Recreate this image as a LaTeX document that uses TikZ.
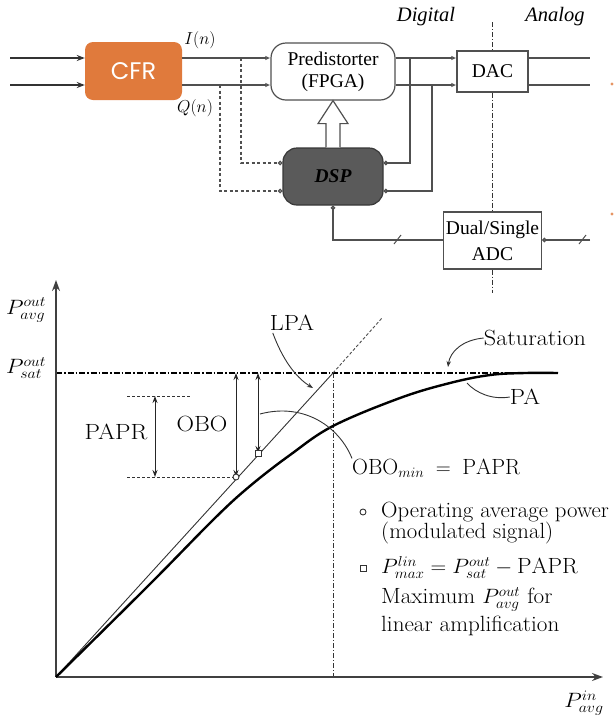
\documentclass[tikz,border=0pt]{standalone}
\usepackage{fontspec}
\newfontfamily\tms{Liberation Serif}
\newfontfamily\cfrfont{Poppins}
\usetikzlibrary{arrows.meta,calc}
\definecolor{cfrorange}{HTML}{E07A3C}
\definecolor{ln}{HTML}{505050}
\definecolor{dspgray}{HTML}{5A5A5A}
\newcommand\wide[2][1.1]{\scalebox{#1}[1]{#2}}
\begin{document}
\begin{tikzpicture}[x=1pt,y=-1pt,
  sig/.style={draw=ln, line width=1.5pt},
  dsig/.style={draw=ln, line width=1.3pt, dash pattern=on 3pt off 2.5pt},
  otip/.style={-{Latex[open,length=5pt,width=4.5pt]}},
  ctip/.style={-{Circle[open,length=4.5pt,width=4.5pt]}},
  box/.style={draw=ln, line width=1.2pt, inner sep=0pt, align=center, font=\tms\fontsize{19.5}{22}\selectfont},
  ttxt/.style={inner sep=0pt, font=\tms\fontsize{19}{22}\selectfont},
  mtxt/.style={inner sep=0pt, font=\fontsize{19}{22}\selectfont},
  btxt/.style={inner sep=0pt, font=\fontsize{22}{24}\selectfont},
  dashdotthin/.style={draw=black!80, line width=1pt, dash pattern=on 5pt off 2pt on 1pt off 2pt},
  satline/.style={draw=black, line width=1.5pt, dash pattern=on 6pt off 2pt on 1.5pt off 2pt},
  axisl/.style={draw=black!75, line width=1.5pt, -{Stealth[length=11pt,width=8pt]}},
  dbl/.style={draw=black!85, line width=1pt, {Stealth[length=7pt,width=5pt]}-{Stealth[length=7pt,width=5pt]}},
  lead/.style={draw=black!80, line width=0.9pt},
  leadarr/.style={lead, -{Stealth[length=6pt,width=4.5pt]}}
]
\useasboundingbox (0,0) rectangle (615,721);

% ---------------- block diagram ----------------
\node[fill=cfrorange, rounded corners=8pt, minimum width=97pt, minimum height=58pt, inner sep=0pt,
      text=white, font=\cfrfont\fontsize{24}{28}\selectfont] (cfr) at (133.5,71) {CFR};
\node[box, rounded corners=15pt, minimum width=124pt, minimum height=57pt, fill=white] (pre) at (333,71.5)
      {Predistorter\\(FPGA)};
\node[box, rounded corners=14pt, minimum width=100pt, minimum height=57pt, fill=dspgray, draw=ln!70!black,
      font=\tms\bfseries\itshape\fontsize{19.5}{22}\selectfont, text=black] (dsp) at (333,176.5) {DSP};
\node[box, minimum width=71pt, minimum height=41pt] (dac) at (492.5,71.5) {DAC};
\node[box, minimum width=98pt, minimum height=57pt, font=\tms\fontsize{19.5}{26}\selectfont] (adc) at (492.5,240.5)
      {Dual/Single\\ADC};

\node[mtxt] (In) at (200,40) {$I(n)$};
\node[mtxt] (Qn) at (195,108) {$Q(n)$};
\node[ttxt, font=\tms\itshape\fontsize{20.5}{22}\selectfont] (dig) at (426,17) {Digital};
\node[ttxt, font=\tms\itshape\fontsize{20.5}{22}\selectfont] (ana) at (555,17) {Analog};

\coordinate (yI) at (0,58);
\coordinate (yQ) at (0,85);
\coordinate (yD1) at (0,163);
\coordinate (yD2) at (0,191);
\coordinate (yA) at (0,240);
\coordinate (inI) at (10,58);
\coordinate (inQ) at (10,85);
\coordinate (tapI) at (241,58);
\coordinate (tapQ) at (220,85);
\coordinate (fbI) at (410,58);
\coordinate (fbQ) at (432,85);
\coordinate (outI) at (590,58);
\coordinate (outQ) at (590,85);
\coordinate (dtop) at (492.5,22);
\coordinate (dbot) at (492.5,293);
\coordinate (adcin) at (590,240);

% inputs to CFR
\draw[sig, line width=1.6pt, draw=black!80, -{Stealth[length=8pt,width=6pt]}] (inI) -- (cfr.west |- inI);
\draw[sig, line width=1.6pt, draw=black!80, -{Stealth[length=8pt,width=6pt]}] (inQ) -- (cfr.west |- inQ);
% CFR to predistorter
\draw[sig, otip] (cfr.east |- yI) -- (pre.west |- yI);
\draw[sig, otip] (cfr.east |- yQ) -- (pre.west |- yQ);
% dashed taps to DSP
\draw[dsig, ctip] (tapI) |- (dsp.west |- yD1);
\draw[dsig, ctip] (tapQ) |- (dsp.west |- yD2);
% predistorter to DAC
\draw[sig, otip] (pre.east |- yI) -- (dac.west |- yI);
\draw[sig, otip] (pre.east |- yQ) -- (dac.west |- yQ);
% feedback of predistorter outputs to DSP
\draw[sig, ctip] (fbI) |- (dsp.east |- yD1);
\draw[sig, ctip] (fbQ) |- (dsp.east |- yD2);
% DAC outputs
\draw[sig] (dac.east |- yI) -- (outI);
\draw[sig] (dac.east |- yQ) -- (outQ);
% digital / analog border
\draw[dashdotthin] (dtop) -- (dac.north);
\draw[dashdotthin] (dac.south) -- (adc.north);
\draw[dashdotthin] (adc.south) -- (dbot);
% ADC connections
\draw[sig, ctip] (adc.west |- yA) -| (dsp.south);
\draw[sig, ctip] (adcin) -- (adc.east |- yA);
\draw[draw=ln, line width=1pt] (394,244) -- (401,235);
\draw[draw=ln, line width=1pt] (579,244) -- (586,235);
% hollow arrow DSP -> predistorter
\draw[draw=ln, line width=1.2pt, fill=white]
  ($(dsp.north)+(-7,0)$) -- ($(pre.south)+(-7,23)$) -- ($(pre.south)+(-15,23)$) -- (pre.south)
  -- ($(pre.south)+(15,23)$) -- ($(pre.south)+(7,23)$) -- ($(dsp.north)+(7,0)$);
% cropped orange marks at the right edge
\fill[cfrorange!80] (612,84) circle (1.6pt);
\fill[cfrorange!80] (612,214) circle (1.6pt);

% ---------------- power characteristic ----------------
\coordinate (O) at (56,677);
\coordinate (ytip) at (56,280);
\coordinate (xtip) at (603,677);
\coordinate (satL) at (56,373);
\coordinate (satR) at (558,373);
\coordinate (K) at (333,373);
\coordinate (lpaEnd) at (382,318);
\coordinate (op) at (236,477);
\coordinate (mx) at (258,453);

\draw[dashdotthin] (K) -- (K |- O);
\draw[satline] (satL) -- (satR);
\draw[axisl] (O) -- (ytip);
\draw[axisl] (O) -- (xtip);

% LPA
\draw[draw=black!80, line width=0.9pt] (O) -- (K);
\draw[draw=black!70, line width=0.9pt, dash pattern=on 3pt off 2pt] (K) -- (lpaEnd);
% PA
\draw[draw=black, line width=2.4pt] plot[smooth, tension=0.6] coordinates
  {(56,677) (150,584) (215,518) (250,486) (290,455) (333,426) (400,398) (450,383) (490,375) (525,373) (558,373)};

% PAPR / OBO markers
\draw[draw=black!80, line width=1pt, dash pattern=on 3pt off 2pt] (127,396) -- (190,396);
\draw[draw=black!80, line width=1pt, dash pattern=on 3pt off 2pt] (127,477) -- (op);
\draw[dbl] (155,396) -- (155,477);
\draw[dbl] (236,373) -- (op);
\draw[dbl] (258,373) -- (mx);
\draw[draw=black!80, line width=0.9pt, fill=white] (op) circle (3pt);
\draw[draw=black!80, line width=0.9pt, fill=white] ($(mx)+(-3,-3)$) rectangle ($(mx)+(3,3)$);

\node[btxt] (papr) at (116,432) {\wide[1.12]{PAPR}};
\node[btxt] (obo) at (202,424) {\wide{OBO}};
\node[btxt] (lpa) at (292,323) {\wide{LPA}};
\node[btxt] (sat) at (535,338) {\wide{Saturation}};
\node[btxt] (pa) at (525,397) {\wide{PA}};
\node[btxt, anchor=west] (obomin) at (352,468) {\wide[1.0]{$\mathrm{OBO}_{min}\;=\;\mathrm{PAPR}$}};

\draw[leadarr] (lpa.south west) ++(3,2) .. controls (282,358) and (295,377) .. (313,388);
\draw[leadarr] (sat.west) .. controls (462,340) and (450,352) .. (448,367);
\draw[lead] (pa.west) .. controls (492,400) and (476,393) .. (467,383);
\draw[lead] (260,414) .. controls (305,402) and (340,428) .. (obomin.north west);

\node[btxt] (pout) at (26,310) {\wide{$P^{out}_{avg}$}};
\node[btxt] (psat) at (26,368) {\wide{$P^{out}_{sat}$}};
\node[btxt] (pin) at (584,703) {\wide{$P^{in}_{avg}$}};

% legend
\coordinate (lc) at (363,512);
\coordinate (ls) at (363,568);
\draw[draw=black!80, line width=0.9pt] (lc) circle (3pt);
\draw[draw=black!80, line width=0.9pt] ($(ls)+(-3,-3)$) rectangle ($(ls)+(3,3)$);
\node[btxt, anchor=north west, align=left, font=\fontsize{22}{21}\selectfont] (l1) at (381,502)
  {\wide[1.035]{Operating average power}\\\wide[1.035]{(modulated signal)}};
\node[btxt, anchor=north west, align=left, font=\fontsize{22}{30}\selectfont] (l3) at (381,556)
  {\wide[1.05]{$P^{lin}_{max}=P^{out}_{sat}-\mathrm{PAPR}$}\\\wide[1.05]{Maximum $P^{out}_{avg}$ for}\\[-2pt]\wide[1.05]{linear amplification}};
\end{tikzpicture}
\end{document}
